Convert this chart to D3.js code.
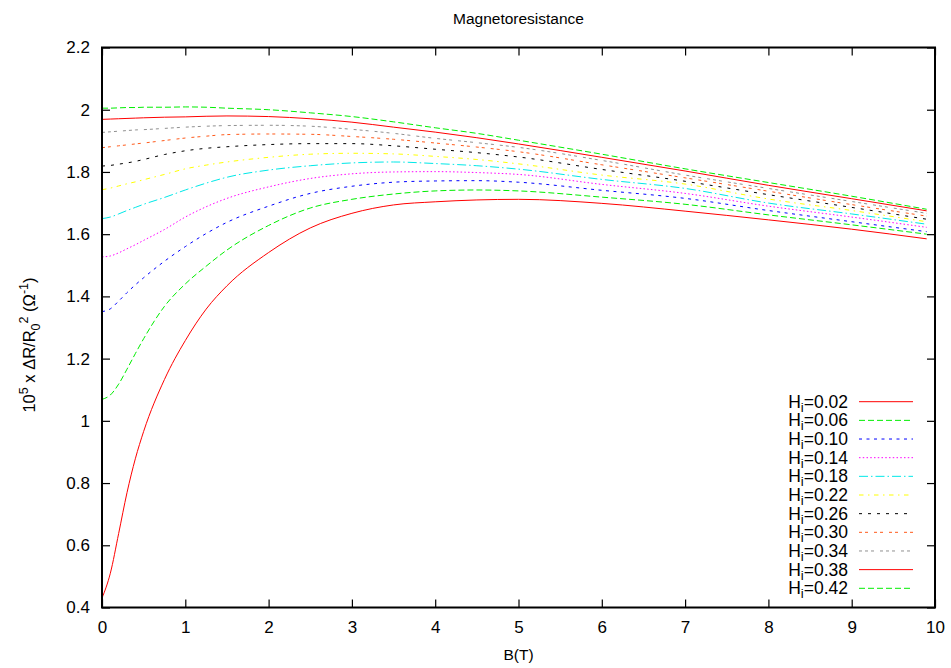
<!DOCTYPE html>
<html>
<head>
<meta charset="utf-8">
<script src="https://cdn.jsdelivr.net/npm/d3@7"></script>
<style>
  html, body { margin: 0; padding: 0; background: #fff; }
  svg { display: block; font-family: "Liberation Sans", Arial, Helvetica, sans-serif; }
</style>
</head>
<body>
<svg id="chart" width="951" height="668"></svg>
<script>
// Magnetic field B (T) sample points
const fieldB = [0, 0.1, 0.2, 0.3, 0.4, 0.5, 0.75, 1, 1.25, 1.5, 2, 2.5, 3, 3.5, 4, 4.5, 5, 6, 7, 8, 9, 9.9];

// 10^5 x dR/R0^2 for each H_i
const hi002 = [0.43, 0.51, 0.638, 0.769, 0.878, 0.966, 1.133, 1.258, 1.359, 1.434, 1.541, 1.62, 1.667, 1.694, 1.704, 1.71, 1.712, 1.699, 1.674, 1.646, 1.616, 1.585];
const hi006 = [1.069, 1.083, 1.118, 1.166, 1.216, 1.264, 1.368, 1.44, 1.497, 1.549, 1.628, 1.684, 1.712, 1.729, 1.739, 1.742, 1.739, 1.719, 1.696, 1.662, 1.63, 1.6];
const hi010 = [1.351, 1.36, 1.385, 1.412, 1.437, 1.46, 1.513, 1.56, 1.602, 1.638, 1.69, 1.731, 1.754, 1.767, 1.771, 1.772, 1.767, 1.741, 1.715, 1.676, 1.64, 1.608];
const hi014 = [1.527, 1.53, 1.54, 1.553, 1.566, 1.58, 1.615, 1.655, 1.688, 1.715, 1.752, 1.779, 1.794, 1.8, 1.801, 1.798, 1.792, 1.76, 1.731, 1.69, 1.655, 1.622];
const hi018 = [1.65, 1.655, 1.665, 1.676, 1.686, 1.696, 1.718, 1.742, 1.764, 1.783, 1.806, 1.82, 1.829, 1.832, 1.827, 1.82, 1.809, 1.776, 1.747, 1.7, 1.665, 1.632];
const hi022 = [1.743, 1.748, 1.755, 1.762, 1.768, 1.775, 1.792, 1.81, 1.822, 1.832, 1.847, 1.857, 1.86, 1.858, 1.85, 1.84, 1.826, 1.79, 1.761, 1.713, 1.676, 1.64];
const hi026 = [1.819, 1.821, 1.825, 1.829, 1.834, 1.84, 1.856, 1.868, 1.876, 1.881, 1.888, 1.891, 1.891, 1.884, 1.873, 1.862, 1.848, 1.808, 1.77, 1.727, 1.686, 1.648];
const hi030 = [1.878, 1.881, 1.884, 1.887, 1.89, 1.893, 1.901, 1.909, 1.915, 1.92, 1.922, 1.921, 1.914, 1.905, 1.893, 1.88, 1.865, 1.823, 1.781, 1.738, 1.695, 1.658];
const hi034 = [1.927, 1.929, 1.931, 1.933, 1.935, 1.936, 1.94, 1.944, 1.947, 1.949, 1.95, 1.947, 1.937, 1.924, 1.908, 1.894, 1.879, 1.837, 1.79, 1.747, 1.705, 1.667];
const hi038 = [1.969, 1.97, 1.971, 1.972, 1.973, 1.974, 1.976, 1.977, 1.979, 1.98, 1.978, 1.971, 1.96, 1.944, 1.928, 1.91, 1.89, 1.847, 1.803, 1.757, 1.714, 1.675];
const hi042 = [2.005, 2.005, 2.006, 2.007, 2.007, 2.008, 2.008, 2.009, 2.008, 2.005, 2.0, 1.99, 1.978, 1.961, 1.942, 1.924, 1.902, 1.857, 1.81, 1.766, 1.722, 1.68];

const seriesLabels = ["0.02", "0.06", "0.10", "0.14", "0.18", "0.22", "0.26", "0.30", "0.34", "0.38", "0.42"];
const seriesValues = [hi002, hi006, hi010, hi014, hi018, hi022, hi026, hi030, hi034, hi038, hi042];

// Axis ticks
const xTickValues = [0, 1, 2, 3, 4, 5, 6, 7, 8, 9, 10];
const xTickLabels = ["0", "1", "2", "3", "4", "5", "6", "7", "8", "9", "10"];
const yTickValues = [0.4, 0.6, 0.8, 1.0, 1.2, 1.4, 1.6, 1.8, 2.0, 2.2];
const yTickLabels = ["0.4", "0.6", "0.8", "1", "1.2", "1.4", "1.6", "1.8", "2", "2.2"];

// Line styles (postscript-like line types)
const lineColors = ["#ff0000", "#00ee00", "#0000ff", "#ff00ff", "#00e8e8", "#ffff00", "#000000", "#ff5a1a", "#909090", "#ff0000", "#00ee00"];
const lineDashes = ["none", "6,3", "3,4.5", "1.5,2.25", "9,3,1.5,3", "4.5,4.5,1.5,4.5", "3,6", "3,3,3,6", "3,3,3,3,3,6", "none", "6,3"];

const margin = { left: 102, right: 16, top: 47.5, bottom: 60.5 };
const W = 951, H = 668;
const svg = d3.select("#chart");

const x = d3.scaleLinear().domain([0, 10]).range([margin.left, W - margin.right]);
const y = d3.scaleLinear().domain([0.4, 2.2]).range([H - margin.bottom, margin.top]);

const x0 = x.range()[0], x1 = x.range()[1], y0 = y.range()[0], y1 = y.range()[1];

// Curves
const line = d3.line()
  .x(d => x(d[0]))
  .y(d => y(d[1]))
  .curve(d3.curveMonotoneX);

const curves = svg.append("g").attr("class", "curves");
seriesValues.forEach((vals, i) => {
  curves.append("path")
    .datum(fieldB.map((b, j) => [b, vals[j]]))
    .attr("d", line)
    .attr("fill", "none")
    .attr("stroke", lineColors[i])
    .attr("stroke-width", 1)
    .attr("stroke-dasharray", lineDashes[i]);
});

// Axes with inward ticks on all four sides
const tickLen = 8;
const fmtX = d => xTickLabels[xTickValues.indexOf(d)];
const fmtY = d => yTickLabels[yTickValues.findIndex(v => Math.abs(v - d) < 1e-9)];

const axisStyle = g => {
  g.select(".domain").remove();
  g.selectAll(".tick line").attr("stroke", "#000").attr("stroke-width", 1.2);
  g.selectAll(".tick text").attr("fill", "#000").style("font-size", "17px")
    .style("font-family", "'Liberation Sans', Arial, sans-serif");
};

svg.append("g")
  .attr("transform", `translate(0,${y0})`)
  .call(d3.axisBottom(x).tickValues(xTickValues).tickFormat(fmtX).tickSizeInner(-tickLen).tickSizeOuter(0).tickPadding(13))
  .call(axisStyle);

svg.append("g")
  .attr("transform", `translate(0,${y1})`)
  .call(d3.axisTop(x).tickValues(xTickValues).tickFormat("").tickSizeInner(-tickLen).tickSizeOuter(0))
  .call(axisStyle);

svg.append("g")
  .attr("transform", `translate(${x0},0)`)
  .call(d3.axisLeft(y).tickValues(yTickValues).tickFormat(fmtY).tickSizeInner(-tickLen).tickSizeOuter(0).tickPadding(12))
  .call(axisStyle);

svg.append("g")
  .attr("transform", `translate(${x1},0)`)
  .call(d3.axisRight(y).tickValues(yTickValues).tickFormat("").tickSizeInner(-tickLen).tickSizeOuter(0))
  .call(axisStyle);

// Plot border
svg.append("rect")
  .attr("x", x0).attr("y", y1)
  .attr("width", x1 - x0).attr("height", y0 - y1)
  .attr("fill", "none").attr("stroke", "#000").attr("stroke-width", 2);

// Title and axis labels
svg.append("text")
  .attr("x", (x0 + x1) / 2).attr("y", 24)
  .attr("text-anchor", "middle").style("font-size", "15.5px")
  .text("Magnetoresistance");

svg.append("text")
  .attr("x", (x0 + x1) / 2).attr("y", 660)
  .attr("text-anchor", "middle").style("font-size", "15.5px")
  .text("B(T)");

const yLabel = svg.append("text")
  .attr("transform", `translate(35,345) rotate(-90)`)
  .attr("text-anchor", "middle").style("font-size", "16.5px");
yLabel.append("tspan").text("10");
yLabel.append("tspan").attr("dy", -7).style("font-size", "12.5px").text("5");
yLabel.append("tspan").attr("dy", 7).text(" x \u0394R/R");
yLabel.append("tspan").attr("dy", 5).style("font-size", "12.5px").text("0");
yLabel.append("tspan").attr("dy", -12).style("font-size", "12.5px").text("2");
yLabel.append("tspan").attr("dy", 7).text(" (\u03A9");
yLabel.append("tspan").attr("dy", -7).style("font-size", "12.5px").text("-1");
yLabel.append("tspan").attr("dy", 7).text(")");

// Legend
const legend = svg.append("g").attr("class", "legend");
seriesLabels.forEach((lab, i) => {
  const ly = 401.7 + i * 18.66;
  const t = legend.append("text")
    .attr("x", 848).attr("y", ly + 6)
    .attr("text-anchor", "end").style("font-size", "17.5px");
  t.append("tspan").text("H");
  t.append("tspan").attr("dy", 4).style("font-size", "13px").text("i");
  t.append("tspan").attr("dy", -4).text("=" + lab);
  legend.append("line")
    .attr("x1", 859).attr("x2", 913)
    .attr("y1", ly).attr("y2", ly)
    .attr("stroke", lineColors[i]).attr("stroke-width", 1)
    .attr("stroke-dasharray", lineDashes[i]);
});
</script>
</body>
</html>
